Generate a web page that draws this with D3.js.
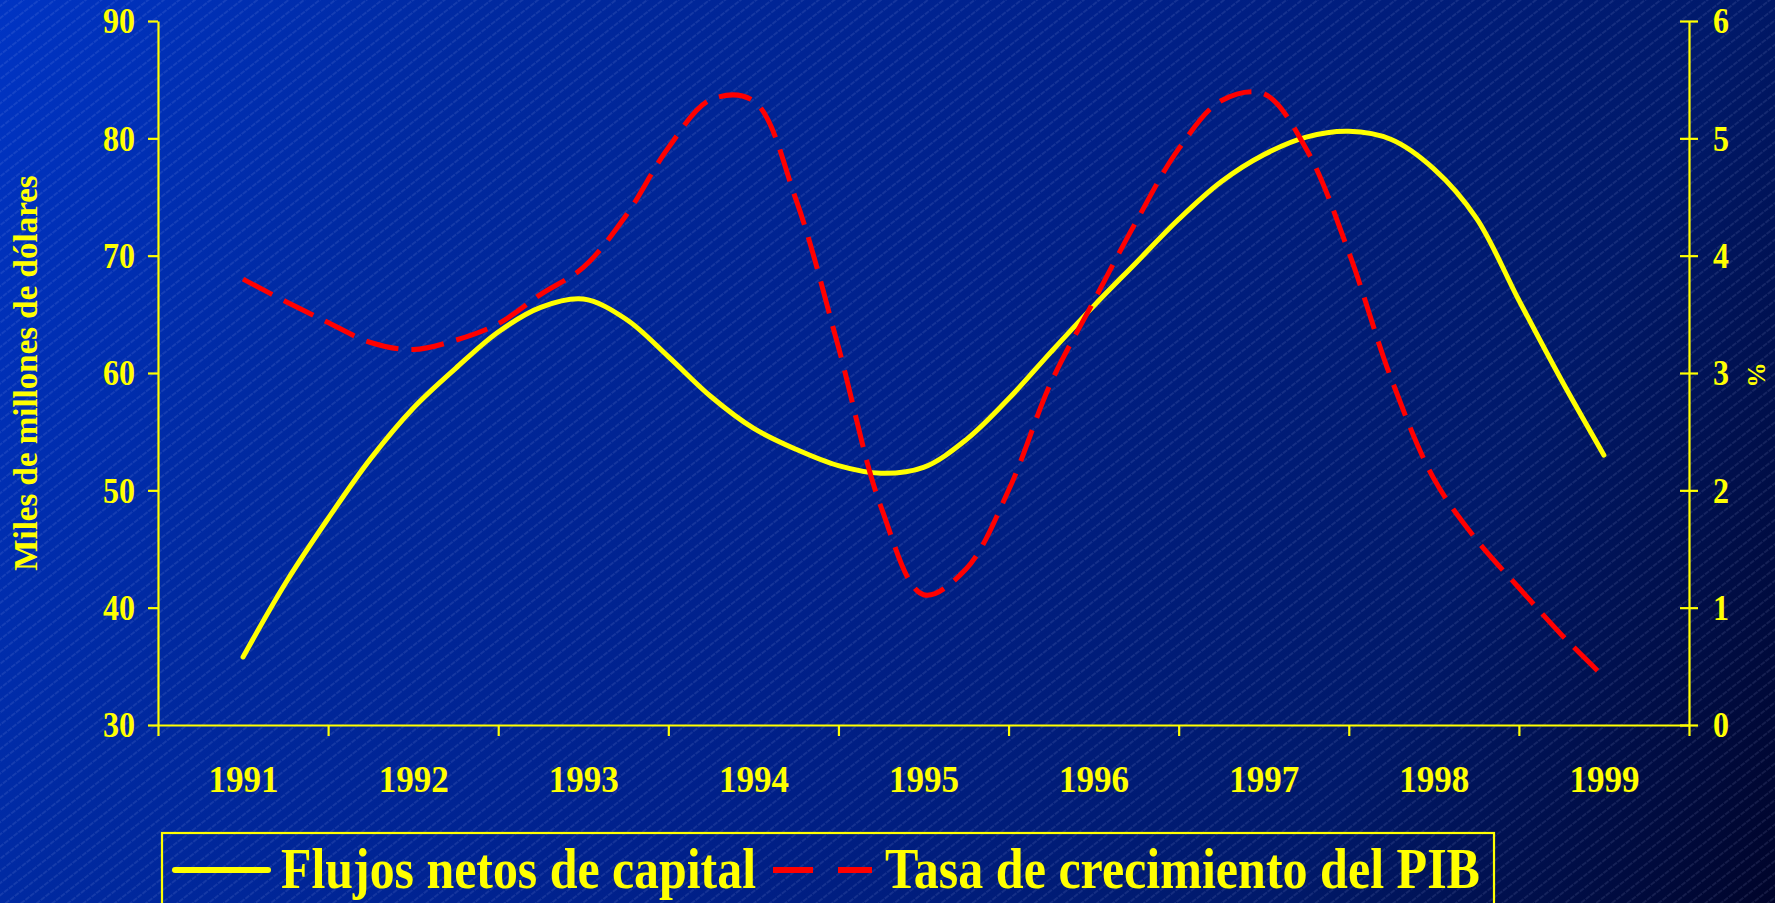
<!DOCTYPE html>
<html><head><meta charset="utf-8">
<script src="https://cdn.jsdelivr.net/npm/d3@7"></script>
<style>html,body{margin:0;padding:0;background:#001a70;overflow:hidden}</style>
</head><body><svg id="c" width="1775" height="903"></svg>
<script>
// ---- data ----
const years = [1991, 1992, 1993, 1994, 1995, 1996, 1997, 1998, 1999];
const periods = [1991, 1991.25, 1991.5, 1991.75, 1992, 1992.25, 1992.5, 1992.75,
  1993, 1993.25, 1993.5, 1993.75, 1994, 1994.25, 1994.5, 1994.75,
  1995, 1995.25, 1995.5, 1995.75, 1996, 1996.25, 1996.5, 1996.75,
  1997, 1997.25, 1997.5, 1997.75, 1998, 1998.25, 1998.5, 1998.75, 1999];
const flujos = [35.8, 42.1, 47.6, 52.7, 57.0, 60.4, 63.5, 65.6,
  66.3, 64.6, 61.4, 58.0, 55.3, 53.5, 52.1, 51.45,
  51.95, 54.3, 57.8, 61.8, 65.7, 69.4, 73.1, 76.3,
  78.6, 80.1, 80.6, 79.9, 77.4, 73.2, 66.2, 59.4, 53.0];
const tasa = [3.80, 3.61, 3.43, 3.26, 3.20, 3.28, 3.42, 3.67,
  3.90, 4.34, 4.92, 5.33, 5.32, 4.48, 3.22, 1.86,
  1.11, 1.33, 2.00, 2.92, 3.61, 4.29, 4.91, 5.32,
  5.38, 4.91, 4.03, 2.95, 2.10, 1.58, 1.17, 0.77, 0.41];
const leftTicks = [30, 40, 50, 60, 70, 80, 90];
const rightTicks = [0, 1, 2, 3, 4, 5, 6];
const seriesNames = ["Flujos netos de capital", "Tasa de crecimiento del PIB"];
const leftTitle = "Miles de millones de dólares";
const rightTitle = "%";

// ---- layout ----
const W = 1775, H = 903;
const L = 158, R = 1689, T = 21, B = 725;
const YEL = "#ffff00", RED = "#ff0000";
const FONT = "'Liberation Serif','Times New Roman',Times,serif";

const svg = d3.select("#c");
const defs = svg.append("defs");
const g0 = defs.append("linearGradient").attr("id", "bg")
  .attr("gradientUnits", "userSpaceOnUse")
  .attr("x1", 0).attr("y1", 0).attr("x2", W).attr("y2", H);
[[0, "#0034c4"], [0.22, "#0029a0"], [0.5, "#00208a"], [0.78, "#00196a"], [1, "#00042a"]]
  .forEach(([o, c]) => g0.append("stop").attr("offset", o).attr("stop-color", c));
const pat = defs.append("pattern").attr("id", "stripes")
  .attr("patternUnits", "userSpaceOnUse").attr("width", 24).attr("height", 9.6)
  .attr("patternTransform", "rotate(-38)");
pat.append("line").attr("x1", 0).attr("x2", 24).attr("y1", 4.8).attr("y2", 4.8)
  .attr("stroke", "#c8d0ff").attr("stroke-opacity", 0.26).attr("stroke-width", 0.8)
  .attr("stroke-dasharray", "5,1");

svg.append("rect").attr("width", W).attr("height", H).attr("fill", "url(#bg)");
svg.append("rect").attr("width", W).attr("height", H).attr("fill", "url(#stripes)");

const x = d3.scaleLinear().domain([years[0] - 0.5, years[years.length - 1] + 0.5]).range([L, R]);
const yL = d3.scaleLinear().domain([30, 90]).range([B, T]);
const yR = d3.scaleLinear().domain([0, 6]).range([B, T]);

function styleAxis(sel) {
  sel.selectAll(".domain").attr("stroke", YEL).attr("stroke-width", 2.2);
  sel.selectAll(".tick line").attr("stroke", YEL).attr("stroke-width", 2.2);
  sel.selectAll("text").attr("fill", YEL).attr("font-family", FONT).attr("font-weight", "bold");
}

// left axis
const axL = svg.append("g").attr("transform", `translate(${L},0)`)
  .call(d3.axisLeft(yL).tickValues(leftTicks).tickSize(10).tickSizeOuter(0).tickPadding(13)
    .tickFormat(d3.format("d")));
styleAxis(axL);
axL.selectAll("text").attr("font-size", 35).attr("dy", "0.34em")
  .attr("textLength", 32).attr("lengthAdjust", "spacingAndGlyphs");

// right axis (ticks crossing)
const axR = svg.append("g").attr("transform", `translate(${R},0)`)
  .call(d3.axisRight(yR).tickValues(rightTicks).tickSize(9).tickSizeOuter(0).tickPadding(15)
    .tickFormat(d3.format("d")));
styleAxis(axR);
axR.selectAll(".tick line").attr("x1", -9);
axR.selectAll("text").attr("font-size", 35).attr("dy", "0.34em")
  .attr("textLength", 16).attr("lengthAdjust", "spacingAndGlyphs");

// bottom axis: ticks at category boundaries
const bounds = years.map(v => v - 0.5).concat([years[years.length - 1] + 0.5]);
const axB = svg.append("g").attr("transform", `translate(0,${B})`)
  .call(d3.axisBottom(x).tickValues(bounds).tickSize(11).tickSizeOuter(0).tickFormat(""));
styleAxis(axB);
const axB2 = svg.append("g").attr("transform", `translate(0,${B})`)
  .call(d3.axisBottom(x).tickValues(years).tickSize(0).tickPadding(54).tickFormat(d3.format("d")));
axB2.select(".domain").remove();
styleAxis(axB2);
axB2.selectAll("text").attr("font-size", 38).attr("dy", "0.35em")
  .attr("textLength", 70).attr("lengthAdjust", "spacingAndGlyphs");

// axis titles
svg.append("text").attr("transform", `translate(37,373) rotate(-90)`)
  .attr("text-anchor", "middle").attr("fill", YEL).attr("font-family", FONT)
  .attr("font-weight", "bold").attr("font-size", 33).text(leftTitle);
svg.append("text").attr("transform", `translate(1765,375) rotate(-90)`)
  .attr("text-anchor", "middle").attr("fill", YEL).attr("font-family", FONT)
  .attr("font-weight", "bold").attr("font-size", 25).text(rightTitle);

// lines
const lineF = d3.line().x((d, i) => x(periods[i])).y(d => yL(d)).curve(d3.curveCatmullRom.alpha(0.5));
const lineT = d3.line().x((d, i) => x(periods[i])).y(d => yR(d)).curve(d3.curveCatmullRom.alpha(0.5));

svg.append("path").datum(flujos).attr("d", lineF).attr("fill", "none")
  .attr("stroke", YEL).attr("stroke-width", 5).attr("stroke-linecap", "round")
  .attr("stroke-linejoin", "round");
svg.append("path").datum(tasa).attr("d", lineT).attr("fill", "none")
  .attr("stroke", RED).attr("stroke-width", 5).attr("stroke-dasharray", "33,13");

// legend
const leg = svg.append("g");
leg.append("rect").attr("x", 162).attr("y", 833).attr("width", 1332).attr("height", 110)
  .attr("fill", "none").attr("stroke", YEL).attr("stroke-width", 2.2);
const items = [
  {name: seriesNames[0], color: YEL, dash: null, x0: 175, x1: 268, tx: 281, tw: 475},
  {name: seriesNames[1], color: RED, dash: "40,25", x0: 773, x1: 872, tx: 885, tw: 595}
];
items.forEach(it => {
  const ln = leg.append("line").attr("x1", it.x0).attr("x2", it.x1).attr("y1", 870).attr("y2", 870)
    .attr("stroke", it.color).attr("stroke-width", 6);
  if (it.dash) ln.attr("stroke-dasharray", it.dash); else ln.attr("stroke-linecap", "round");
  leg.append("text").attr("x", it.tx).attr("y", 888).attr("fill", YEL)
    .attr("font-family", FONT).attr("font-weight", "bold").attr("font-size", 56)
    .attr("textLength", it.tw).attr("lengthAdjust", "spacingAndGlyphs").text(it.name);
});
</script></body></html>
